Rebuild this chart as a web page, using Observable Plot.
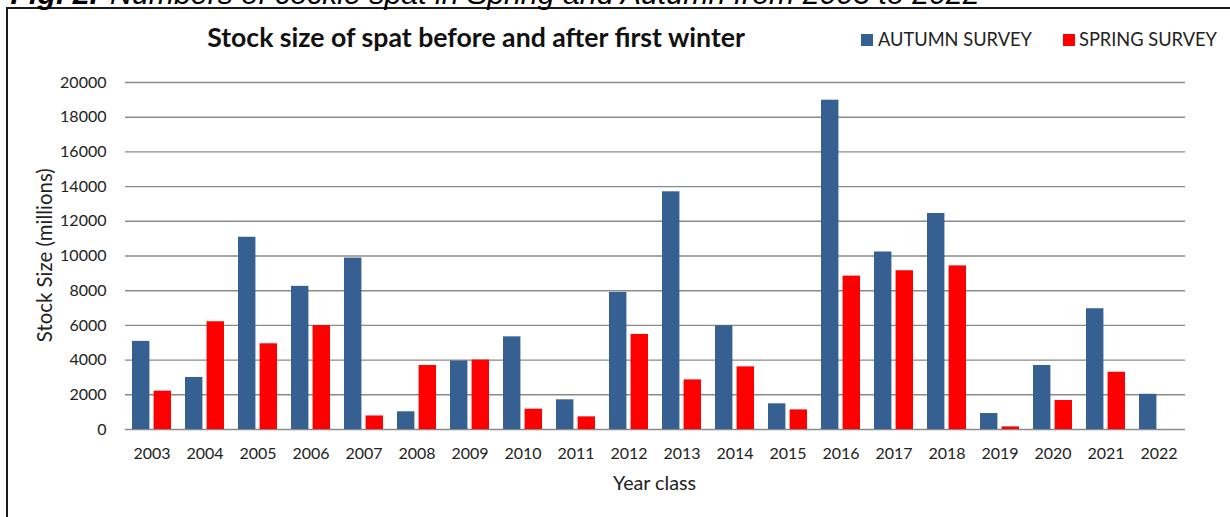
<!DOCTYPE html>
<html>
<head>
<meta charset="utf-8">
<script src="https://cdn.jsdelivr.net/npm/d3@7"></script>
<script src="https://cdn.jsdelivr.net/npm/@observablehq/plot@0.6"></script>
<style>
  html, body { margin: 0; padding: 0; background: #fff; overflow: hidden; width: 1230px; height: 517px; }
  #wrap { position: relative; width: 1230px; height: 517px; overflow: hidden; font-family: Lato, sans-serif; color: #222; }
  .cap { position: absolute; font-family: "Liberation Sans", Arial, sans-serif; font-style: italic; line-height: 1; white-space: nowrap; color: #000; }
  #capB { font-weight: bold; }
  #border { position: absolute; left: 6px; top: 7px; width: 1400px; height: 700px; border: 2px solid #1a1a1a; box-sizing: border-box; }
  .t { position: absolute; line-height: 1; white-space: nowrap; }
  #title { font-weight: bold; color: #111; }
  .sw { position: absolute; top: 34px; width: 12px; height: 12px; }
  #chart { position: absolute; left: 0; top: 0; }
</style>
</head>
<body>
<div id="wrap">
  <div id="border"></div>
  <div id="capB" class="cap">Fig. 2.</div>
  <div id="capR" class="cap">Numbers of cockle spat in Spring and Autumn from 2003 to 2022</div>
  <div id="chart"></div>
  <div id="title" class="t">Stock size of spat before and after first winter</div>
  <div id="sw0" class="sw" style="left:861px"></div>
  <div id="leg0" class="t"></div>
  <div id="sw1" class="sw" style="left:1063px"></div>
  <div id="leg1" class="t"></div>
  <div id="ylab" class="t">Stock Size (millions)</div>
  <div id="xlab" class="t">Year class</div>
</div>
<script>
const years = ["2003","2004","2005","2006","2007","2008","2009","2010","2011","2012",
               "2013","2014","2015","2016","2017","2018","2019","2020","2021","2022"];
const autumn = [5080, 3000, 11080, 8250, 9880, 1020, 3950, 5340, 1710, 7900,
                13700, 5980, 1480, 18980, 10230, 12450, 920, 3690, 6960, 2030];
const spring = [2210, 6210, 4940, 5990, 780, 3690, 4000, 1170, 730, 5480,
                2860, 3610, 1130, 8840, 9150, 9430, 150, 1670, 3300, null];
const seriesNames = ["AUTUMN SURVEY", "SPRING SURVEY"];
const seriesColors = ["#376092", "#ff0000"];
const yTicks = [0, 2000, 4000, 6000, 8000, 10000, 12000, 14000, 16000, 18000, 20000];

const rows = years.map((year, i) => ({year, autumn: autumn[i], spring: spring[i]}));

document.getElementById("sw0").style.background = seriesColors[0];
document.getElementById("sw1").style.background = seriesColors[1];
document.getElementById("leg0").textContent = seriesNames[0];
document.getElementById("leg1").textContent = seriesNames[1];

// text layout helpers: fit a text to a width, then place it by its baseline
function fitSize(el, targetW) {
  el.style.fontSize = "100px";
  const w = el.getBoundingClientRect().width;
  const fs = 100 * targetW / w;
  el.style.fontSize = fs + "px";
  return fs;
}
const LATO_BASE = 0.887, LIB_BASE = 0.8465;
function place(id, targetW, anchorX, baseline, align, baseRatio) {
  const el = document.getElementById(id);
  const fs = fitSize(el, targetW);
  const w = el.getBoundingClientRect().width;
  const left = align === "middle" ? anchorX - w / 2 : align === "end" ? anchorX - w : anchorX;
  el.style.left = left + "px";
  el.style.top = (baseline - baseRatio * fs) + "px";
  return fs;
}
place("title", 538, 476, 48, "middle", LATO_BASE);
place("leg0", 154, 878, 46, "start", LATO_BASE);
place("leg1", 138, 1079, 46, "start", LATO_BASE);
place("xlab", 83, 654.5, 490, "middle", LATO_BASE);
// caption (partly cut by the top edge, as in the source)
const capFs = place("capR", 870, 110, 5, "start", LIB_BASE);
(function() {
  const el = document.getElementById("capB");
  el.style.fontSize = capFs + "px";
  const w = el.getBoundingClientRect().width;
  el.style.left = (98 - w) + "px";
  el.style.top = (5 - LIB_BASE * capFs) + "px";
})();
// rotated y-axis title
(function() {
  const el = document.getElementById("ylab");
  const fs = fitSize(el, 174);
  const r = el.getBoundingClientRect();
  el.style.left = (44 - r.width / 2) + "px";
  el.style.top = (255 - r.height / 2) + "px";
  el.style.transform = "rotate(-90deg)";
  el.style.transformOrigin = "50% 50%";
})();

const W = 1230, H = 517;
const mL = 125, mR = 45, mT = 82, mB = 88;
const padInner = 0.27, padOuter = 0.135;
const step = (W - mL - mR) / (years.length - padInner + 2 * padOuter);
const bw = step * (1 - padInner);
const barW = bw * 0.442;
const inset = bw - barW;

const plot = Plot.plot({
  width: W,
  height: H,
  marginLeft: mL,
  marginRight: mR,
  marginTop: mT,
  marginBottom: mB,
  style: {fontFamily: "Lato, sans-serif", fontSize: "16px", color: "#222", background: "transparent", overflow: "visible"},
  x: {type: "band", domain: years, paddingInner: padInner, paddingOuter: padOuter, axis: null},
  y: {domain: [0, 20000], axis: null},
  marks: [
    Plot.ruleY(yTicks, {stroke: "#8a8a8a", strokeWidth: 1.4}),
    Plot.barY(rows, {x: "year", y: "autumn", fill: seriesColors[0], insetRight: inset}),
    Plot.barY(rows.filter(d => d.spring != null), {x: "year", y: "spring", fill: seriesColors[1], insetLeft: inset}),
    Plot.axisY({ticks: yTicks, tickSize: 0, tickPadding: 19, tickFormat: d3.format("d"), label: null, fontSize: 16}),
    Plot.axisX({tickSize: 0, tickPadding: 18, label: null, fontSize: 16})
  ]
});
document.getElementById("chart").appendChild(plot);
</script>
</body>
</html>
